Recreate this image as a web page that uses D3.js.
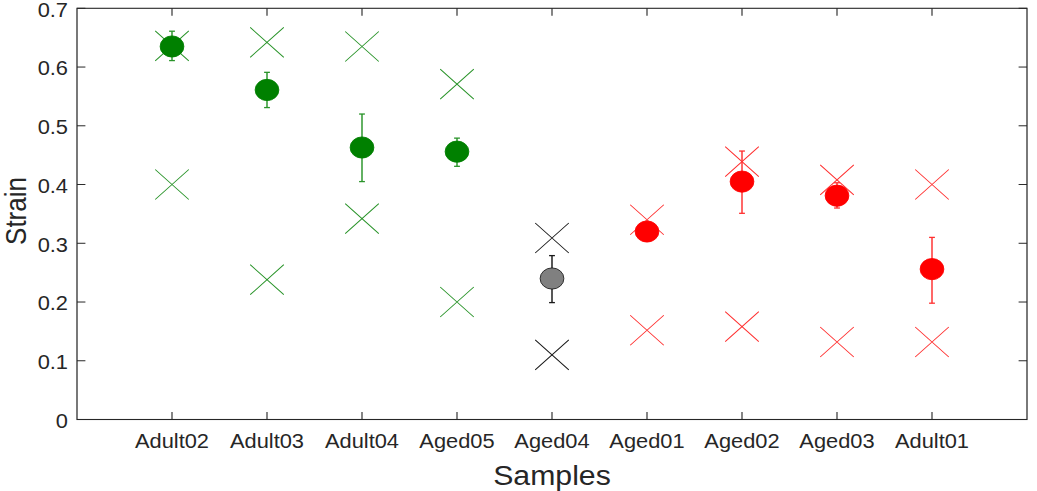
<!DOCTYPE html>
<html><head>
<meta charset="utf-8">
<title>Strain by sample</title>
<style>
  body, html { margin: 0; padding: 0; background: #fff; }
  svg { display: block; font-family: 'Liberation Sans', Arial, Helvetica, sans-serif; }
  .lbl { fill: #262626; }
</style>
<script src="https://d3js.org/d3.v7.min.js"></script>
</head>
<body>
<div id="chart"></div>
<script>
// values
const samples = ["Adult02", "Adult03", "Adult04", "Aged05", "Aged04", "Aged01", "Aged02", "Aged03", "Adult01"];
const meanStrain = [0.635, 0.561, 0.463, 0.456, 0.240, 0.320, 0.405, 0.381, 0.256];
const errLow  = [0.611, 0.531, 0.405, 0.431, 0.199, 0.305, 0.351, 0.360, 0.198];
const errHigh = [0.661, 0.591, 0.520, 0.479, 0.279, 0.335, 0.457, 0.403, 0.310];
const crossHigh = [0.636, 0.642, 0.635, 0.571, 0.309, 0.340, 0.439, 0.408, 0.400];
const crossLow  = [0.400, 0.238, 0.342, 0.200, 0.110, 0.152, 0.158, 0.132, 0.132];
const group = ["adult", "adult", "adult", "adult", "mid", "aged", "aged", "aged", "aged"];
const yTicks = [0, 0.1, 0.2, 0.3, 0.4, 0.5, 0.6, 0.7];

const colors = {
  adult: { fill: "#008000", edge: "#008000", line: "#2a942a" },
  mid:   { fill: "#808080", edge: "#1a1a1a", line: "#1a1a1a" },
  aged:  { fill: "#ff0000", edge: "#ff0000", line: "#ff3030" }
};

const W = 1037, H = 491;
const sx = 1.12; // the figure is stretched sideways
const svg = d3.select("#chart").append("svg").attr("width", W).attr("height", H);
const g = svg.append("g").attr("transform", `scale(${sx},1)`);

const x = d3.scaleLinear().domain([0, 10]).range([77 / sx, 1027 / sx]);
const y = d3.scaleLinear().domain([0, 0.7]).range([419.5, 8.3]);
const x0 = x.range()[0], x1 = x.range()[1], y0 = y.range()[0], y1 = y.range()[1];
const axisCol = "#262626";

// box
g.append("rect").attr("x", x0).attr("y", y1).attr("width", x1 - x0).attr("height", y0 - y1)
  .attr("fill", "none").attr("stroke", axisCol).attr("stroke-width", 1.1);

// y ticks (left and right, inward)
yTicks.forEach(t => {
  g.append("line").attr("x1", x0).attr("x2", x0 + 7.5).attr("y1", y(t)).attr("y2", y(t))
    .attr("stroke", axisCol);
  g.append("line").attr("x1", x1).attr("x2", x1 - 7.5).attr("y1", y(t)).attr("y2", y(t))
    .attr("stroke", axisCol);
  g.append("text").attr("class", "lbl").attr("x", 68 / sx).attr("y", y(t)).attr("dy", "0.43em")
    .attr("text-anchor", "end").attr("font-size", 19.5).text(t === 0 ? "0" : d3.format(".1f")(t));
});

// x ticks (bottom and top, inward)
samples.forEach((s, i) => {
  const xi = x(i + 1);
  g.append("line").attr("x1", xi).attr("x2", xi).attr("y1", y0).attr("y2", y0 - 7.5).attr("stroke", axisCol);
  g.append("line").attr("x1", xi).attr("x2", xi).attr("y1", y1).attr("y2", y1 + 7.5).attr("stroke", axisCol);
  g.append("text").attr("class", "lbl").attr("x", xi).attr("y", 448)
    .attr("text-anchor", "middle").attr("font-size", 19.5).text(s);
});

// axis titles
g.append("text").attr("class", "lbl").attr("x", (x0 + x1) / 2).attr("y", 485)
  .attr("text-anchor", "middle").attr("font-size", 27).text("Samples");
g.append("text").attr("class", "lbl").attr("transform", `translate(${25.5 / sx},211) rotate(-90)`)
  .attr("text-anchor", "middle").attr("font-size", 26).text("Strain");

// crosses
const cs = 15;
function cross(cx, cy, col) {
  g.append("path")
    .attr("d", `M${cx - cs},${cy - cs}L${cx + cs},${cy + cs}M${cx - cs},${cy + cs}L${cx + cs},${cy - cs}`)
    .attr("stroke", col).attr("stroke-width", 0.9).attr("fill", "none");
}
samples.forEach((s, i) => {
  const c = colors[group[i]];
  cross(x(i + 1), y(crossHigh[i]), c.line);
  cross(x(i + 1), y(crossLow[i]), c.line);
});

// error bars
samples.forEach((s, i) => {
  const c = colors[group[i]], xi = x(i + 1), cap = 2.6;
  g.append("line").attr("x1", xi).attr("x2", xi).attr("y1", y(errLow[i])).attr("y2", y(errHigh[i]))
    .attr("stroke", c.line).attr("stroke-width", 1.3);
  [errLow[i], errHigh[i]].forEach(v => {
    g.append("line").attr("x1", xi - cap).attr("x2", xi + cap).attr("y1", y(v)).attr("y2", y(v))
      .attr("stroke", c.line).attr("stroke-width", 1.3);
  });
});

// mean markers
g.selectAll("circle.mean").data(samples).enter().append("circle")
  .attr("class", "mean")
  .attr("cx", (d, i) => x(i + 1))
  .attr("cy", (d, i) => y(meanStrain[i]))
  .attr("r", 10.6)
  .attr("fill", (d, i) => colors[group[i]].fill)
  .attr("stroke", (d, i) => colors[group[i]].edge)
  .attr("stroke-width", 0.8);
</script>
</body></html>
